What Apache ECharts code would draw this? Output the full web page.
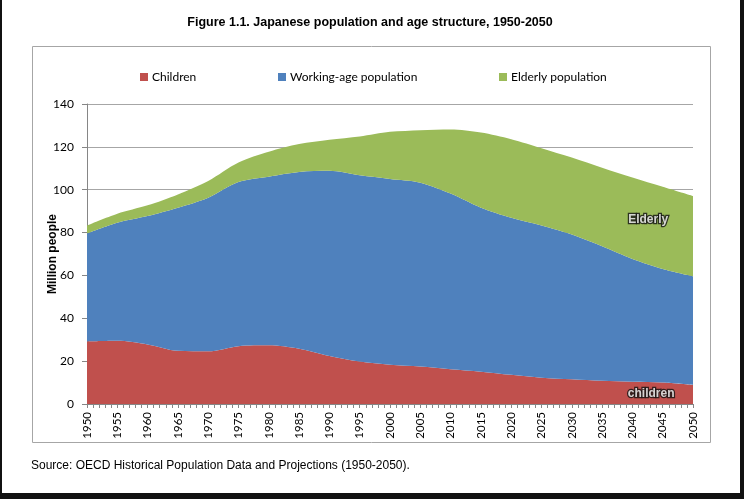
<!DOCTYPE html>
<html>
<head>
<meta charset="utf-8">
<script src="https://cdn.jsdelivr.net/npm/echarts@6/dist/echarts.min.js"></script>
<style>
html, body { margin: 0; padding: 0; background: #fff; }
#chart { width: 744px; height: 499px; }
</style>
</head>
<body>
<div id="chart"></div>
<script>
// years on the x axis
var years = ['1950', '1955', '1960', '1965', '1970', '1975', '1980', '1985', '1990', '1995', '2000',
             '2005', '2010', '2015', '2020', '2025', '2030', '2035', '2040', '2045', '2050'];
// million people
var children = [29.2, 29.5, 27.8, 24.8, 24.6, 27.0, 27.4, 25.8, 22.4, 19.8, 18.3,
                17.5, 16.2, 15.1, 13.6, 12.3, 11.5, 10.8, 10.4, 10.0, 8.9];
var working = [50.4, 55.1, 59.9, 66.8, 71.7, 76.6, 78.7, 82.5, 86.4, 86.9, 86.7,
               85.8, 82.0, 76.5, 73.3, 71.0, 67.6, 62.8, 57.3, 53.0, 50.7];
var elderly = [3.7, 4.2, 5.0, 6.2, 7.8, 9.1, 11.6, 13.0, 14.5, 18.1, 22.0,
               24.5, 29.9, 35.1, 36.7, 36.1, 35.9, 36.7, 38.0, 38.4, 37.5];
var seriesNames = ['Children', 'Working-age population', 'Elderly population'];
var colors = ['#C0504D', '#4F81BD', '#9BBB59'];
// in-chart notes: [year, million people, text]
var notes = [[2042.6, 86.1, 'Elderly'], [2043.1, 4.7, 'children']];

var labelFont = 'Lato, "Liberation Sans", Arial, sans-serif';
var axisGray = '#868686';

function makeSeries(i, vals) {
    return {
        name: seriesNames[i],
        type: 'line',
        stack: 'total',
        symbol: 'none',
        smooth: 0.3,
        data: vals,
        lineStyle: { width: 0 },
        itemStyle: { color: colors[i] },
        areaStyle: { color: colors[i], opacity: 1 },
        emphasis: { disabled: true }
    };
}

var legendX = [135, 273, 494];

var myChart = echarts.init(document.getElementById('chart'));
var option = {
    backgroundColor: '#fff',
    animation: false,
    title: {
        text: 'Figure 1.1. Japanese population and age structure, 1950-2050',
        left: 365,
        textAlign: 'center',
        top: 11,
        textStyle: {
            fontFamily: '"Liberation Sans", Arial, sans-serif',
            fontWeight: 'bold',
            fontSize: 12.5,
            color: '#000'
        }
    },
    legend: seriesNames.map(function (n, i) {
        return {
            data: [n],
            left: legendX[i],
            top: 66,
            icon: 'rect',
            itemWidth: 8,
            itemHeight: 8,
            itemGap: 0,
            selectedMode: false,
            textStyle: { fontFamily: labelFont, fontSize: 12, color: '#000', padding: [0, 0, 0, -1] }
        };
    }),
    grid: {
        left: 87,
        right: 51,
        top: 104,
        bottom: 95
    },
    xAxis: [
        {
            // the areas sit on this one
            type: 'category',
            data: years,
            boundaryGap: false,
            show: false
        },
        {
            // drawn axis with a tick every year
            type: 'value',
            min: 1950,
            max: 2050,
            interval: 5,
            position: 'bottom',
            axisLine: { show: true, onZero: false, lineStyle: { color: axisGray } },
            axisTick: { show: true, length: 4, lineStyle: { color: axisGray } },
            minorTick: { show: true, splitNumber: 5, length: 4, lineStyle: { color: axisGray } },
            splitLine: { show: false },
            axisLabel: {
                rotate: 90,
                margin: 8,
                fontFamily: labelFont,
                fontSize: 11.5,
                color: '#000',
                formatter: function (v) { return String(v); }
            }
        }
    ],
    yAxis: {
        type: 'value',
        min: 0,
        max: 140,
        interval: 20,
        name: 'Million people',
        nameLocation: 'middle',
        nameRotate: 90,
        nameGap: 28,
        nameMoveOverlap: false,
        nameTextStyle: {
            fontFamily: '"Liberation Sans", Arial, sans-serif',
            fontWeight: 'bold',
            fontSize: 12,
            color: '#000'
        },
        axisLine: { show: true, lineStyle: { color: axisGray } },
        axisTick: { show: true, length: 5, lineStyle: { color: axisGray } },
        splitLine: { show: true, lineStyle: { color: '#a6a6a6', width: 1 } },
        axisLabel: {
            margin: 13,
            fontFamily: labelFont,
            fontSize: 12,
            color: '#000'
        }
    },
    graphic: [
        // chart frame
        { type: 'rect', shape: { x: 32.5, y: 46.5, width: 678, height: 396 },
          style: { fill: 'none', stroke: '#a6a6a6', lineWidth: 1 }, z: -1 },
        { type: 'text', left: 31, top: 460,
          style: { text: 'Source: OECD Historical Population Data and Projections (1950-2050).',
                   fill: '#000', font: '12px "Liberation Sans", Arial, sans-serif' } },
        // black edge of the screenshot
        { type: 'rect', shape: { x: 0, y: 0, width: 2, height: 499 }, style: { fill: '#111' } },
        { type: 'rect', shape: { x: 740, y: 0, width: 4, height: 499 }, style: { fill: '#111' } },
        { type: 'rect', shape: { x: 0, y: 493, width: 744, height: 6 }, style: { fill: '#111' } }
    ],
    series: [
        makeSeries(0, children),
        makeSeries(1, working),
        makeSeries(2, elderly),
        {
            type: 'scatter',
            xAxisIndex: 1,
            symbolSize: 0,
            silent: true,
            data: notes,
            z: 5,
            label: {
                show: true,
                position: 'inside',
                formatter: function (p) { return p.data[2]; },
                color: '#fff',
                fontFamily: '"Liberation Sans", Arial, sans-serif',
                fontWeight: 'bold',
                fontSize: 12,
                textBorderColor: '#111',
                textBorderWidth: 2.5
            }
        }
    ]
};
myChart.setOption(option);
window.addEventListener('resize', function () { myChart.resize(); });
</script>
</body>
</html>
